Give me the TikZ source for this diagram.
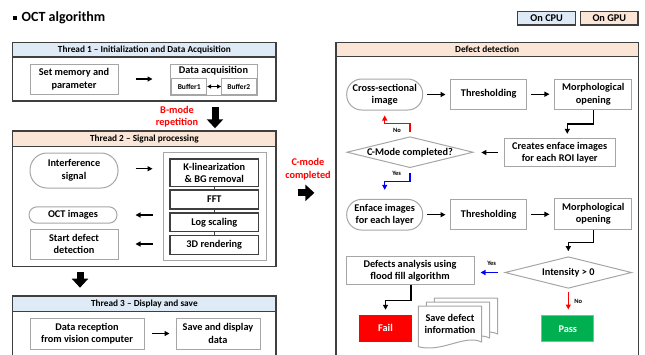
\documentclass[tikz,border=0pt]{standalone}
\usepackage{fontspec}
\setmainfont{Carlito}
\usetikzlibrary{arrows.meta,shapes.geometric,positioning}
\definecolor{cpufill}{HTML}{DEEBF7}
\definecolor{gpufill}{HTML}{FBE5D6}
\definecolor{framegray}{HTML}{3F3F3F}
\definecolor{boxgray}{HTML}{A6A6A6}
\definecolor{passgreen}{HTML}{00B050}
\begin{document}
\begin{tikzpicture}[x=1pt,y=-1pt,
    every node/.style={font=\fontsize{10.3}{12.5}\selectfont\bfseries, align=center, inner sep=0pt},
    frame/.style={draw=framegray, line width=1.2pt},
    head/.style={frame, font=\fontsize{9.3}{11}\selectfont\bfseries},
    plainbox/.style={draw=boxgray, line width=1pt, fill=white},
    stadium/.style={plainbox, rounded corners=#1},
    darkbox/.style={draw=framegray, line width=1.2pt, fill=white},
    decision/.style={diamond, draw=boxgray, line width=1pt, aspect=4},
    arr/.style={line width=1.2pt, -{Triangle[length=5pt,width=5pt]}},
    elbow/.style={line width=1.5pt, -{Triangle[length=5pt,width=5pt]}},
    bigarr/.style={line width=7pt, -{Triangle[length=9pt,width=16pt]}},
    note/.style={text=red},
    tag/.style={font=\fontsize{6.5}{7.5}\selectfont\bfseries},
    docpage/.pic={\path[plainbox] (0,0) -- (63.4,0) -- (63.4,36)
        .. controls (46,28) and (24,47) .. (0,40.7) -- cycle;}
]
    \useasboundingbox (0,0) rectangle (645,354);
    \clip (0,0) rectangle (645,354);

    % title and legend
    \node[fill, minimum size=4pt] (bullet) at (14.5,18) {};
    \node[anchor=west, font=\fontsize{14}{16}\selectfont\bfseries] (title) at (21.5,18) {OCT algorithm};
    \node[frame, fill=cpufill, minimum width=58pt, minimum height=13.3pt] (cpu) at (546.7,18.3) {On CPU};
    \node[frame, fill=gpufill, minimum width=57.3pt, minimum height=13.3pt] (gpu) at (609.3,18.3) {On GPU};

    % thread 1
    \node[frame, minimum width=263.3pt, minimum height=58.7pt] (t1) at (144.35,71.65) {};
    \node[head, fill=cpufill, minimum width=263.3pt, minimum height=14.7pt] (t1head) at (144.35,49.65) {Thread 1 -- Initialization and Data Acquisition};
    \node[plainbox, minimum width=88pt, minimum height=30pt] (setmem) at (74,79) {Set memory and\\parameter};
    \node[plainbox, minimum width=87pt, minimum height=31pt] (acq) at (213.5,79.5) {};
    \node[below=3pt of acq.north] (acqlabel) {Data acquisition};
    \node[plainbox, font=\fontsize{7.5}{8.5}\selectfont\bfseries, minimum width=35pt, minimum height=16pt] (buf1) at (189.2,86.5) {Buffer1};
    \node[plainbox, font=\fontsize{7.5}{8.5}\selectfont\bfseries, minimum width=34.5pt, minimum height=16pt] (buf2) at (238.8,86.5) {Buffer2};
    \draw[line width=1pt, {Triangle[length=4pt,width=4pt]}-{Triangle[length=4pt,width=4pt]}] (buf1) -- (buf2);
    \draw[arr, shorten <=17pt, shorten >=17pt] (setmem.east) -- (setmem.east -| acq.west);

    \node[note] (bmode) at (177,116.5) {B-mode\\repetition};
    \draw[bigarr, shorten <=5.7pt, shorten >=2.7pt] ([xshift=70.65pt]t1.south) -- ([xshift=70.65pt]t1.south |- 0,131);

    % thread 2
    \node[frame, minimum width=263.3pt, minimum height=135.7pt] (t2) at (144.35,198.85) {};
    \node[head, fill=gpufill, minimum width=263.3pt, minimum height=15.7pt] (t2head) at (144.35,138.85) {Thread 2 -- Signal processing};
    \node[stadium=17pt, minimum width=88pt, minimum height=35pt] (interf) at (74,170.5) {Interference\\signal};
    \node[plainbox, minimum width=103pt, minimum height=108pt] (gpubox) at (214.5,206) {};
    \node[darkbox, minimum width=88.7pt, minimum height=27.7pt] (klin) at (214.3,172.8) {K-linearization\\\& BG removal};
    \node[darkbox, minimum width=88.7pt, minimum height=19pt] (fft) at (214.3,199.5) {FFT};
    \node[darkbox, minimum width=88.7pt, minimum height=18.7pt] (logs) at (214.3,222.3) {Log scaling};
    \node[darkbox, minimum width=88.7pt, minimum height=18.7pt] (rend) at (214.3,245) {3D rendering};
    \draw[framegray, line width=1.5pt] (klin) -- (fft);
    \draw[framegray, line width=1.5pt] (fft) -- (logs);
    \draw[framegray, line width=1.5pt] (logs) -- (rend);
    \node[stadium=8pt, minimum width=88pt, minimum height=16.3pt] (octimg) at (73,215) {OCT images};
    \node[plainbox, minimum width=88pt, minimum height=30pt] (start) at (74,244) {Start defect\\detection};
    \draw[arr, shorten <=17pt, shorten >=10pt] ([yshift=1.8pt]interf.east) -- ([yshift=1.8pt]interf.east -| gpubox.west);
    \draw[arr, shorten <=10pt, shorten >=18pt] (octimg.east -| gpubox.west) -- (octimg.east);
    \draw[arr, shorten <=10pt, shorten >=17pt] (start.east -| gpubox.west) -- (start.east);

    % thread 3
    \node[frame, minimum width=263.3pt, minimum height=68pt] (t3) at (144.35,330) {};
    \node[head, fill=cpufill, minimum width=263.3pt, minimum height=15.7pt] (t3head) at (144.35,303.85) {Thread 3 -- Display and save};
    \node[plainbox, minimum width=114pt, minimum height=31pt] (recep) at (87,333.5) {Data reception\\from vision computer};
    \node[plainbox, minimum width=84pt, minimum height=31pt] (savedisp) at (218,333.5) {Save and display\\data};
    \draw[arr, shorten <=7.7pt, shorten >=6pt] (recep) -- (savedisp);
    \draw[bigarr, shorten <=5pt, shorten >=7.7pt] ([xshift=-64.35pt]t2.south) -- ([xshift=-64.35pt]t3.north);

    % defect detection
    \node[frame, minimum width=302.3pt, minimum height=326pt] (dd) at (487.15,205.3) {};
    \node[head, fill=gpufill, minimum width=302.3pt, minimum height=14.4pt] (ddhead) at (487.15,49.5) {Defect detection};
    \node[note] (cmodelbl) at (308,169) {C-mode\\completed};
    \draw[bigarr, shorten <=21pt, shorten >=21pt] ([yshift=6pt]t2.east) -- ([yshift=6pt]t2.east -| dd.west);

    \node[stadium=15pt, minimum width=76pt, minimum height=31pt] (cross) at (384.7,94.5) {Cross-sectional\\image};
    \node[plainbox, minimum width=76pt, minimum height=30.3pt] (thr1) at (488.7,94.2) {Thresholding};
    \node[plainbox, minimum width=76.7pt, minimum height=30.3pt] (morph1) at (593.3,94.2) {Morphological\\opening};
    \draw[arr, shorten <=4pt, shorten >=4.7pt] (cross.east) -- (cross.east -| thr1.west);
    \draw[arr, shorten <=4pt, shorten >=5pt] (thr1) -- (morph1);
    \node[plainbox, minimum width=110.7pt, minimum height=28.3pt] (creates) at (559.7,152.5) {Creates enface images\\for each ROI layer};
    \node[decision, minimum width=126.3pt, minimum height=31pt] (cmode) at (410,152.2) {C-Mode completed?};
    \draw[elbow, shorten >=4pt] (morph1.south) -- ++(0,14) -| ([xshift=7.6pt]creates.north);
    \draw[arr, shorten <=6pt, shorten >=7.7pt] (creates.west) -- (creates.west -| cmode.east);

    \node[stadium=15pt, minimum width=76pt, minimum height=30.7pt] (enface) at (384.7,214.7) {Enface images\\for each layer};
    \node[plainbox, minimum width=76pt, minimum height=30pt] (thr2) at (488.7,214.3) {Thresholding};
    \node[plainbox, minimum width=76.7pt, minimum height=30.7pt] (morph2) at (593.3,213.7) {Morphological\\opening};
    \draw[arr, shorten <=4pt, shorten >=4.7pt] (enface.east) -- (enface.east -| thr2.west);
    \draw[arr, shorten <=4pt, shorten >=5pt] (thr2.east) -- (thr2.east -| morph2.west);
    \draw[elbow, red, shorten <=4pt, shorten >=5pt] (cmode.north) -- ++(0,-12.7) -| (cross.south);
    \node[tag] (nolbl1) at (397,130) {No};
    \draw[elbow, blue, shorten <=4.5pt, shorten >=9pt] (cmode.south) -- ++(0,13.3) -| (enface.north);
    \node[tag] (yeslbl1) at (396.7,173.3) {Yes};

    \node[decision, minimum width=126.7pt, minimum height=31.6pt] (intens) at (568.3,272.5) {Intensity > 0};
    \draw[elbow, shorten >=5pt] (morph2.south) -- ++(0,13) -| (intens.north);
    \node[plainbox, minimum width=128pt, minimum height=28.3pt] (defana) at (410,270.8) {Defects analysis using\\flood fill algorithm};
    \draw[arr, blue, shorten <=6.7pt, shorten >=6pt] (intens.west) -- (intens.west -| defana.east);
    \node[tag] (yeslbl2) at (491.7,263.3) {Yes};
    \node[fill=red, text=white, minimum width=52.4pt, minimum height=26.7pt] (fail) at (385.5,328.3) {Fail};
    \draw[elbow, shorten >=5pt] ([xshift=1pt]defana.south) -- ++(0,15) -| (fail.north);
    \node[plainbox, fill=passgreen, text=white, minimum width=52.3pt, minimum height=26pt] (pass) at (567.8,328.7) {Pass};
    \draw[arr, red, shorten <=3.4pt, shorten >=5.7pt] (intens.south) -- (intens.south |- pass.north);
    \node[tag] (nolbl2) at (578.3,301.7) {No};

    % stacked pages
    \pic at (434.3,298) {docpage};
    \pic at (426.3,302) {docpage};
    \pic at (418.3,306) {docpage};
    \node (savedef) at (450,324) {Save defect\\information};
\end{tikzpicture}
\end{document}
